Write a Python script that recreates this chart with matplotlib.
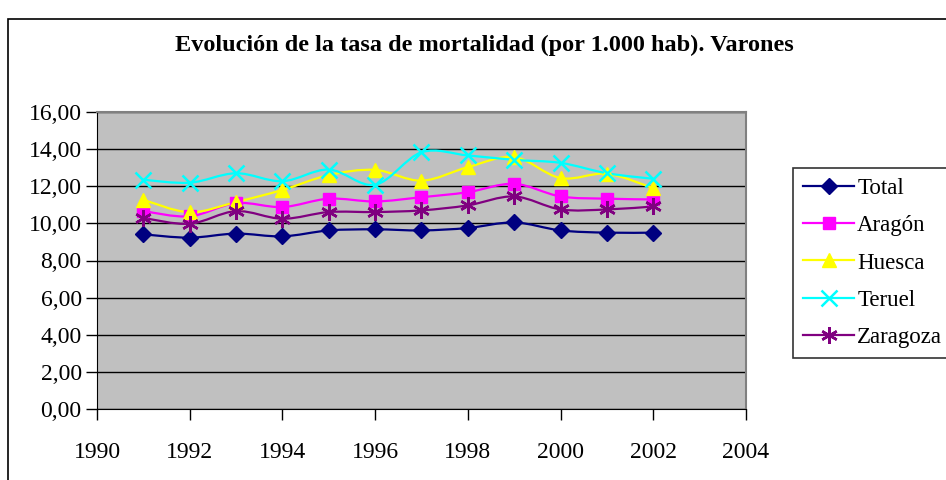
import numpy as np
import matplotlib.pyplot as plt
from matplotlib.path import Path
from matplotlib.patches import PathPatch, Rectangle
from matplotlib.lines import Line2D

years = [1991, 1992, 1993, 1994, 1995, 1996, 1997, 1998, 1999, 2000, 2001, 2002]
total = [9.41, 9.23, 9.45, 9.30, 9.62, 9.68, 9.62, 9.75, 10.05, 9.62, 9.50, 9.50]
aragon = [10.66, 10.38, 11.09, 10.88, 11.33, 11.18, 11.41, 11.68, 12.13, 11.45, 11.33, 11.29]
huesca = [11.27, 10.60, 11.15, 11.80, 12.60, 12.88, 12.30, 13.03, 13.57, 12.44, 12.67, 11.90]
teruel = [12.35, 12.19, 12.70, 12.27, 12.90, 12.08, 13.83, 13.66, 13.42, 13.26, 12.70, 12.40]
zaragoza = [10.29, 9.98, 10.66, 10.25, 10.61, 10.61, 10.70, 10.97, 11.45, 10.75, 10.75, 10.91]

names = ["Total", "Aragón", "Huesca", "Teruel", "Zaragoza"]
series = [total, aragon, huesca, teruel, zaragoza]
colors = ["#000080", "#FF00FF", "#FFFF00", "#00FFFF", "#800080"]
markers = ["D", "s", "^", "x", (6, 2, 0)]
msizes = [8, 9, 10, 11, 12]

plt.rcParams['font.family'] = ['Liberation Serif', 'DejaVu Serif']


def smooth_path(xs, ys):
    # excel-like smoothed line: bezier segments through each point
    pts = np.column_stack([xs, ys]).astype(float)
    n = len(pts)
    verts = [pts[0]]
    codes = [Path.MOVETO]
    for i in range(n - 1):
        p0 = pts[i - 1] if i > 0 else pts[i]
        p1 = pts[i]
        p2 = pts[i + 1]
        p3 = pts[i + 2] if i + 2 < n else pts[i + 1]
        c1 = p1 + (p2 - p0) / 6.0
        c2 = p2 - (p3 - p1) / 6.0
        verts += [c1, c2, p2]
        codes += [Path.CURVE4] * 3
    return Path(verts, codes)


fig = plt.figure(figsize=(9.46, 4.8), dpi=100)
fig.patches.append(Rectangle((8 / 946, -0.1), 1.2, 1 - 19 / 480 + 0.1,
                             transform=fig.transFigure, fill=False,
                             edgecolor="black", linewidth=1.2))

ax = fig.add_axes([97 / 946, 71 / 480, 649 / 946, 297 / 480])
ax.set_facecolor("#C0C0C0")

handles = []
for vals, name, c, m, ms in zip(series, names, colors, markers, msizes):
    ax.add_patch(PathPatch(smooth_path(years, vals), facecolor="none",
                           edgecolor=c, linewidth=1.6, zorder=3))
    mew = 1.8 if m in ("x", (6, 2, 0)) else 1
    ax.plot(years, vals, linestyle="none", marker=m, markersize=ms,
            color=c, markeredgewidth=mew, zorder=4)
    handles.append(Line2D([], [], color=c, marker=m, markersize=ms,
                          markeredgewidth=mew, linewidth=1.6, label=name))

ax.set_xlim(1990, 2004)
ax.set_ylim(0, 16)
ax.set_xticks(range(1990, 2005, 2))
ax.set_yticks(range(0, 17, 2))
ax.set_yticklabels([f"{v:.2f}".replace(".", ",") for v in range(0, 17, 2)])
ax.yaxis.grid(True, color="black", linewidth=1)
ax.set_axisbelow(True)

for s in ["top", "right"]:
    ax.spines[s].set_color("#808080")
    ax.spines[s].set_linewidth(1.5)
ax.spines["left"].set_color("black")
ax.spines["bottom"].set_color("black")

ax.tick_params(axis="both", direction="out", length=8, width=1,
               labelsize=17, color="black")
ax.tick_params(axis="x", pad=16)
ax.tick_params(axis="y", pad=3)

fig.text(484 / 946, 1 - 45 / 480, "Evolución de la tasa de mortalidad (por 1.000 hab). Varones",
         ha="center", va="center", fontsize=17.5, fontweight="bold")

leg = fig.legend(handles=handles, loc="upper left",
                 bbox_to_anchor=(793 / 946, 1 - 168 / 480),
                 fontsize=16.5, frameon=True, fancybox=False,
                 handlelength=2.2, handletextpad=0.15, labelspacing=0.7,
                 borderpad=0.45, borderaxespad=0)
leg.get_frame().set_edgecolor("black")
leg.get_frame().set_linewidth(1.2)

fig.savefig("out.png", dpi=100)
